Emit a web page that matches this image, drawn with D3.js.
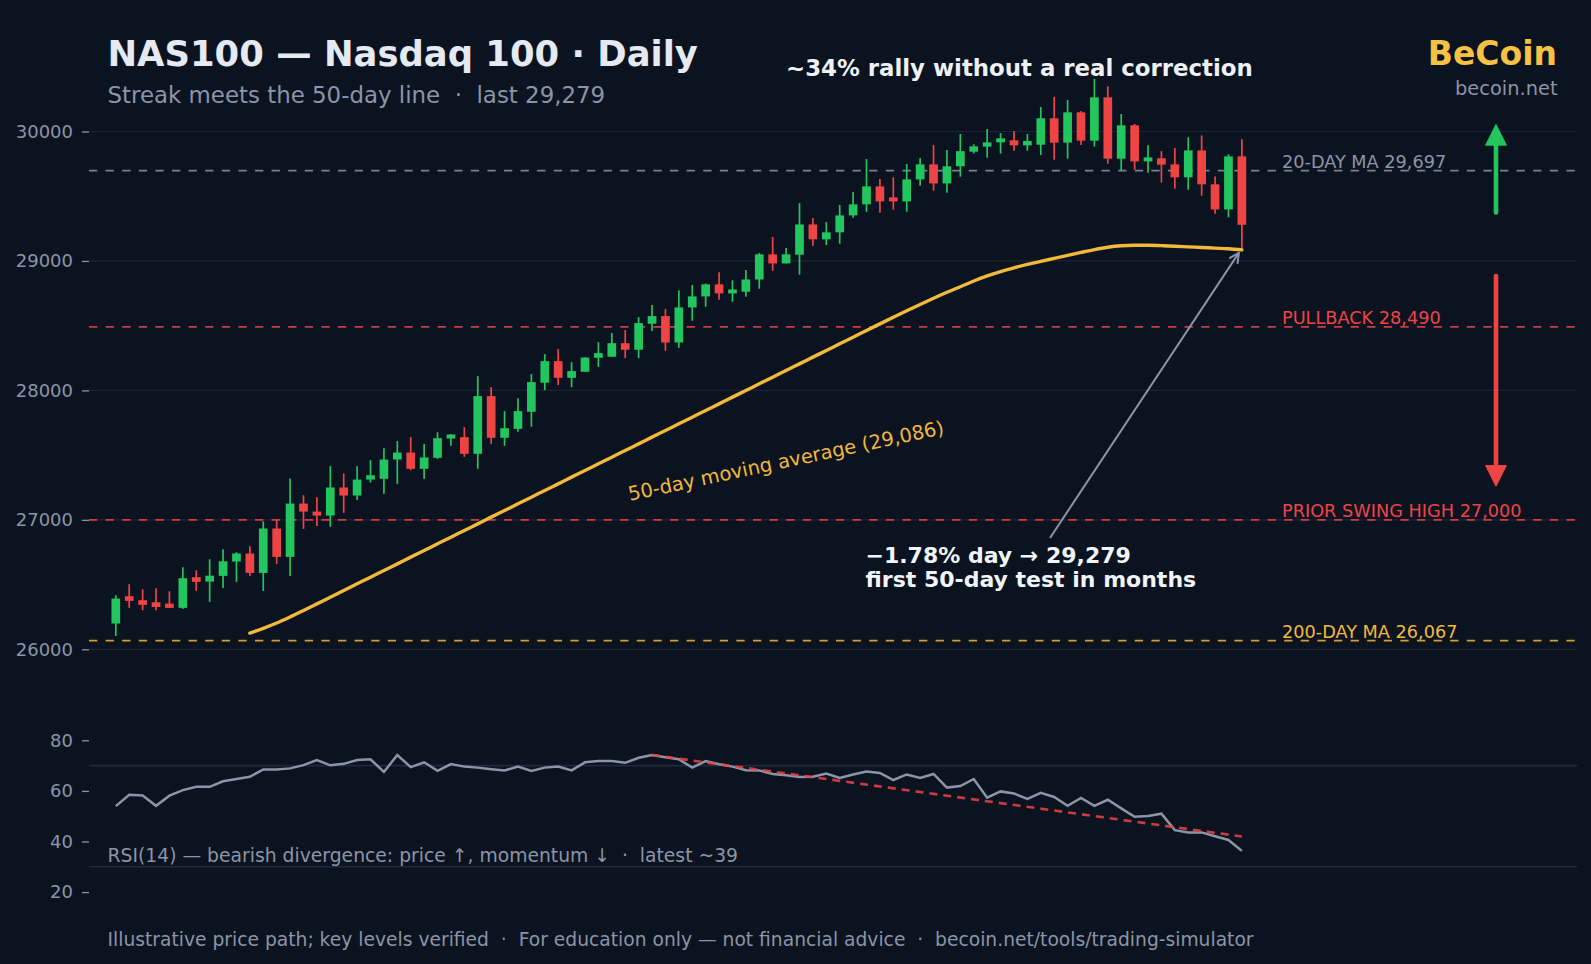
<!DOCTYPE html>
<html>
<head>
<meta charset="utf-8">
<script src="https://cdn.jsdelivr.net/npm/d3@7"></script>
<style>
  html, body { margin: 0; padding: 0; background: #0b1220; }
  svg { display: block; font-family: "DejaVu Sans", sans-serif; }
  text { white-space: pre; }
</style>
</head>
<body>
<svg id="chart" width="1591" height="964"></svg>
<script>
// daily candles
const opens  = [26199,26410,26379,26363,26353,26320,26557,26523,26567,26678,26740,26590,26933,26714,27126,27064,27033,27250,27188,27311,
                27317,27466,27520,27394,27479,27628,27639,27510,27956,27634,27703,27835,28059,28226,28097,28144,28252,28260,28365,28314,
                28515,28574,28370,28641,28726,28819,28749,28762,28857,29051,28981,29048,29282,29167,29221,29352,29437,29576,29491,29460,
                29630,29746,29599,29731,29844,29883,29916,29932,29893,29898,30102,29914,30148,29929,30264,29790,30048,29769,29793,29746,
                29646,29854,29592,29398,29808];
const highs  = [26417,26503,26464,26472,26448,26634,26611,26696,26773,26750,26796,26989,26997,27319,27190,27175,27415,27358,27415,27461,
                27554,27608,27639,27585,27677,27662,27716,28110,28025,27840,27940,28126,28280,28319,28218,28257,28373,28443,28466,28566,
                28659,28628,28772,28814,28826,28912,28850,28930,29061,29185,29100,29447,29331,29300,29432,29532,29787,29633,29646,29749,
                29795,29896,29857,29981,29901,30019,29988,30004,29981,30189,30267,30244,30159,30406,30349,30135,30058,29893,29849,29873,
                29955,29970,29653,29824,29940];
const lows   = [26103,26320,26302,26302,26320,26312,26451,26366,26474,26521,26567,26451,26660,26567,26930,26953,26946,27054,27154,27288,
                27201,27278,27384,27317,27471,27572,27487,27394,27587,27572,27680,27719,28002,28041,28025,28144,28182,28260,28249,28249,
                28458,28306,28329,28538,28646,28700,28685,28723,28785,28924,28981,28893,29118,29123,29133,29334,29380,29373,29396,29380,
                29581,29543,29527,29651,29831,29798,29829,29852,29852,29818,29782,29790,29896,29883,29751,29697,29705,29682,29605,29558,
                29550,29504,29365,29337,29097];
const closes = [26392,26374,26343,26327,26320,26549,26521,26569,26680,26740,26590,26933,26714,27126,27064,27033,27250,27188,27311,27345,
                27466,27520,27394,27482,27631,27659,27510,27956,27634,27708,27840,28064,28226,28097,28149,28254,28288,28365,28314,28520,
                28574,28370,28641,28726,28819,28749,28780,28857,29051,28981,29051,29282,29167,29221,29352,29437,29576,29460,29460,29630,
                29746,29599,29731,29848,29885,29916,29947,29893,29927,30102,29914,30148,29929,30264,29790,30048,29769,29800,29744,29646,
                29854,29592,29398,29808,29279];

// 50-day moving average, first value sits under candle 10
const maStart = 10;
const ma50 = [26125,26162,26203,26250,26300,26351,26402,26454,26506,26557,26609,26660,26712,26763,26815,26866,26918,26969,27021,27072,
              27124,27175,27227,27278,27330,27381,27433,27484,27536,27587,27639,27690,27742,27793,27845,27896,27948,27999,28051,28102,
              28154,28205,28257,28308,28360,28411,28463,28514,28565,28615,28664,28712,28758,28801,28845,28884,28918,28947,28973,28997,
              29020,29043,29066,29088,29106,29117,29121,29121,29118,29114,29109,29104,29099,29094,29086];

// RSI(14), one value per candle
const rsi = [54.0,58.5,58.2,54.1,58.1,60.3,61.6,61.6,63.8,64.7,65.6,68.5,68.5,68.9,70.2,72.2,70.1,70.7,72.2,72.5,
             67.5,74.2,69.4,71.3,67.9,70.6,69.6,69.2,68.6,68.1,69.6,67.9,69.2,69.6,68.1,71.3,71.8,71.8,71.1,73.1,
             74.2,73.3,72.5,69.2,71.8,70.5,69.6,68.2,68.1,66.7,66.2,65.5,65.6,66.9,65.1,66.5,67.7,67.1,64.3,66.5,
             65.1,66.7,61.3,61.9,64.7,57.3,59.8,59.0,56.8,59.2,57.6,54.1,57.2,54.1,56.5,53.1,49.8,50.1,51.0,44.5,
             43.6,43.6,42.1,40.6,36.3];
const rsiTrend = [{i: 40, v: 74.2}, {i: 84, v: 42.0}];

const priceTicks = [26000, 27000, 28000, 29000, 30000];
const rsiTicks = [20, 40, 60, 80];
const rsiBands = [30, 70];

const levels = [
  {v: 29697, label: "20-DAY MA 29,697", color: "#8b95a7"},
  {v: 28490, label: "PULLBACK 28,490", color: "#ef4444"},
  {v: 27000, label: "PRIOR SWING HIGH 27,000", color: "#ef4444"},
  {v: 26067, label: "200-DAY MA 26,067", color: "#f2b93b"}
];
const upMove = [29374, 30050];
const downMove = [28884, 27264];

const W = 1591, H = 964;
const BG = "#0b1220", UP = "#22c55e", DOWN = "#ef4444", GOLD = "#f2b93b", MUTED = "#8b95a7", GRID = "#1a2436";

const svg = d3.select("#chart");
svg.append("rect").attr("width", W).attr("height", H).attr("fill", BG);

const plotL = 89, plotR = 1577;
const x = d3.scaleLinear().domain([-2, 109]).range([plotL, plotR]);
const y = d3.scaleLinear().domain([26000, 30000]).range([649.3, 131.5]);
const yR = d3.scaleLinear().domain([20, 80]).range([892.1, 740.3]);

// grid
svg.append("g").selectAll("line").data(priceTicks).join("line")
  .attr("x1", plotL).attr("x2", plotR)
  .attr("y1", d => y(d)).attr("y2", d => y(d))
  .attr("stroke", GRID).attr("stroke-width", 1.2);

svg.append("g").selectAll("line").data(rsiBands).join("line")
  .attr("x1", plotL).attr("x2", plotR)
  .attr("y1", d => yR(d)).attr("y2", d => yR(d))
  .attr("stroke", "#1f2a3d").attr("stroke-width", 1.6);

// axes
const styleAxis = g => {
  g.select(".domain").remove();
  g.selectAll(".tick line").attr("stroke", MUTED).attr("stroke-width", 1.3);
  g.selectAll(".tick text").attr("fill", MUTED).attr("font-size", 18)
    .attr("font-family", "DejaVu Sans, sans-serif");
};
svg.append("g").attr("transform", `translate(${plotL},0)`)
  .call(d3.axisLeft(y).tickValues(priceTicks).tickSize(7).tickPadding(9).tickFormat(d3.format("d")))
  .call(styleAxis);
svg.append("g").attr("transform", `translate(${plotL},0)`)
  .call(d3.axisLeft(yR).tickValues(rsiTicks).tickSize(7).tickPadding(9))
  .call(styleAxis);

// key levels
const lv = svg.append("g");
lv.selectAll("line").data(levels).join("line")
  .attr("x1", plotL).attr("x2", plotR)
  .attr("y1", d => y(d.v)).attr("y2", d => y(d.v))
  .attr("stroke", d => d.color).attr("stroke-width", 1.7)
  .attr("stroke-dasharray", "8.3 8.3").attr("opacity", 0.85);
lv.selectAll("text").data(levels).join("text")
  .attr("x", 1282).attr("y", d => y(d.v) - 3)
  .attr("fill", d => d.color).attr("font-size", 17.7)
  .text(d => d.label);

// candles
const candles = closes.map((c, i) => ({i, o: opens[i], h: highs[i], l: lows[i], c}));
const cg = svg.append("g").selectAll("g").data(candles).join("g");
cg.append("line")
  .attr("x1", d => x(d.i)).attr("x2", d => x(d.i))
  .attr("y1", d => y(d.h)).attr("y2", d => y(d.l))
  .attr("stroke", d => d.c >= d.o ? UP : DOWN).attr("stroke-width", 1.7);
cg.append("rect")
  .attr("x", d => x(d.i) - 4.35).attr("width", 8.7)
  .attr("y", d => y(Math.max(d.o, d.c)))
  .attr("height", d => Math.max(1.5, Math.abs(y(d.o) - y(d.c))))
  .attr("fill", d => d.c >= d.o ? UP : DOWN);

// 50-day MA
const maPts = ma50.map((v, k) => ({i: maStart + k, v}));
svg.append("path").datum(maPts)
  .attr("d", d3.line().x(d => x(d.i)).y(d => y(d.v)).curve(d3.curveMonotoneX))
  .attr("fill", "none").attr("stroke", GOLD).attr("stroke-width", 3.4)
  .attr("stroke-linecap", "round");

svg.append("text")
  .attr("transform", "translate(786,461) rotate(-12)")
  .attr("text-anchor", "middle").attr("dominant-baseline", "central")
  .attr("fill", GOLD).attr("font-size", 19.5)
  .text("50-day moving average (29,086)");

// annotation arrow to the MA test
svg.append("defs").append("marker")
  .attr("id", "openhead").attr("viewBox", "0 0 12 12").attr("refX", 11).attr("refY", 6)
  .attr("markerWidth", 12).attr("markerHeight", 12).attr("markerUnits", "userSpaceOnUse")
  .attr("orient", "auto")
  .append("path").attr("d", "M1,1 L11,6 L1,11").attr("fill", "none")
  .attr("stroke", MUTED).attr("stroke-width", 2);

const last = candles.length - 1;
svg.append("line")
  .attr("x1", 1050).attr("y1", 538)
  .attr("x2", x(last) - 3).attr("y2", y(ma50[ma50.length - 1]) + 3)
  .attr("stroke", MUTED).attr("stroke-width", 2)
  .attr("marker-end", "url(#openhead)");

const note = svg.append("text").attr("x", 865.5).attr("fill", "#f1f5f9")
  .attr("font-size", 22).attr("font-weight", "bold");
note.append("tspan").attr("x", 865.5).attr("y", 563).text("\u22121.78% day \u2192 29,279");
note.append("tspan").attr("x", 865.5).attr("y", 586.5).text("first 50-day test in months");

// scenario arrows
const arrowX = 1496;
const drawArrow = (vals, color) => {
  const y0 = y(vals[0]), y1 = y(vals[1]);
  const dir = y1 < y0 ? -1 : 1;
  svg.append("line").attr("x1", arrowX).attr("x2", arrowX)
    .attr("y1", y0).attr("y2", y1 - dir * 14)
    .attr("stroke", color).attr("stroke-width", 4.6).attr("stroke-linecap", "round");
  svg.append("path")
    .attr("d", `M${arrowX},${y1} L${arrowX - 10},${y1 - dir * 20} L${arrowX + 10},${y1 - dir * 20} Z`)
    .attr("fill", color).attr("stroke", color).attr("stroke-width", 1.5).attr("stroke-linejoin", "round");
};
drawArrow(upMove, UP);
drawArrow(downMove, DOWN);

// RSI panel
svg.append("path").datum(rsi)
  .attr("d", d3.line().x((d, i) => x(i)).y(d => yR(d)))
  .attr("fill", "none").attr("stroke", MUTED).attr("stroke-width", 2.5);
svg.append("path").datum(rsiTrend)
  .attr("d", d3.line().x(d => x(d.i)).y(d => yR(d.v)))
  .attr("fill", "none").attr("stroke", DOWN).attr("stroke-width", 2.6)
  .attr("stroke-dasharray", "8 6").attr("opacity", 0.85);

svg.append("text").attr("x", 107.5).attr("y", 862).attr("fill", MUTED).attr("font-size", 18.75)
  .text("RSI(14) \u2014 bearish divergence: price \u2191, momentum \u2193  \u00b7  latest ~39");

// titles
svg.append("text").attr("x", 107.5).attr("y", 65.5).attr("fill", "#e5e9f2")
  .attr("font-size", 35.4).attr("font-weight", "bold")
  .text("NAS100 \u2014 Nasdaq 100 \u00b7 Daily");
svg.append("text").attr("x", 107.5).attr("y", 102.5).attr("fill", MUTED).attr("font-size", 22.9)
  .text("Streak meets the 50-day line  \u00b7  last 29,279");
svg.append("text").attr("x", 786).attr("y", 76).attr("fill", "#eef1f6")
  .attr("font-size", 22.85).attr("font-weight", "bold")
  .text("~34% rally without a real correction");
svg.append("text").attr("x", 1557).attr("y", 65).attr("text-anchor", "end")
  .attr("fill", "#f7c244").attr("font-size", 33).attr("font-weight", "bold").text("BeCoin");
svg.append("text").attr("x", 1557.5).attr("y", 95).attr("text-anchor", "end")
  .attr("fill", MUTED).attr("font-size", 19.4).text("becoin.net");

svg.append("text").attr("x", 107.5).attr("y", 946).attr("fill", MUTED).attr("font-size", 18.7)
  .text("Illustrative price path; key levels verified  \u00b7  For education only \u2014 not financial advice  \u00b7  becoin.net/tools/trading-simulator");
</script>
</body>
</html>
